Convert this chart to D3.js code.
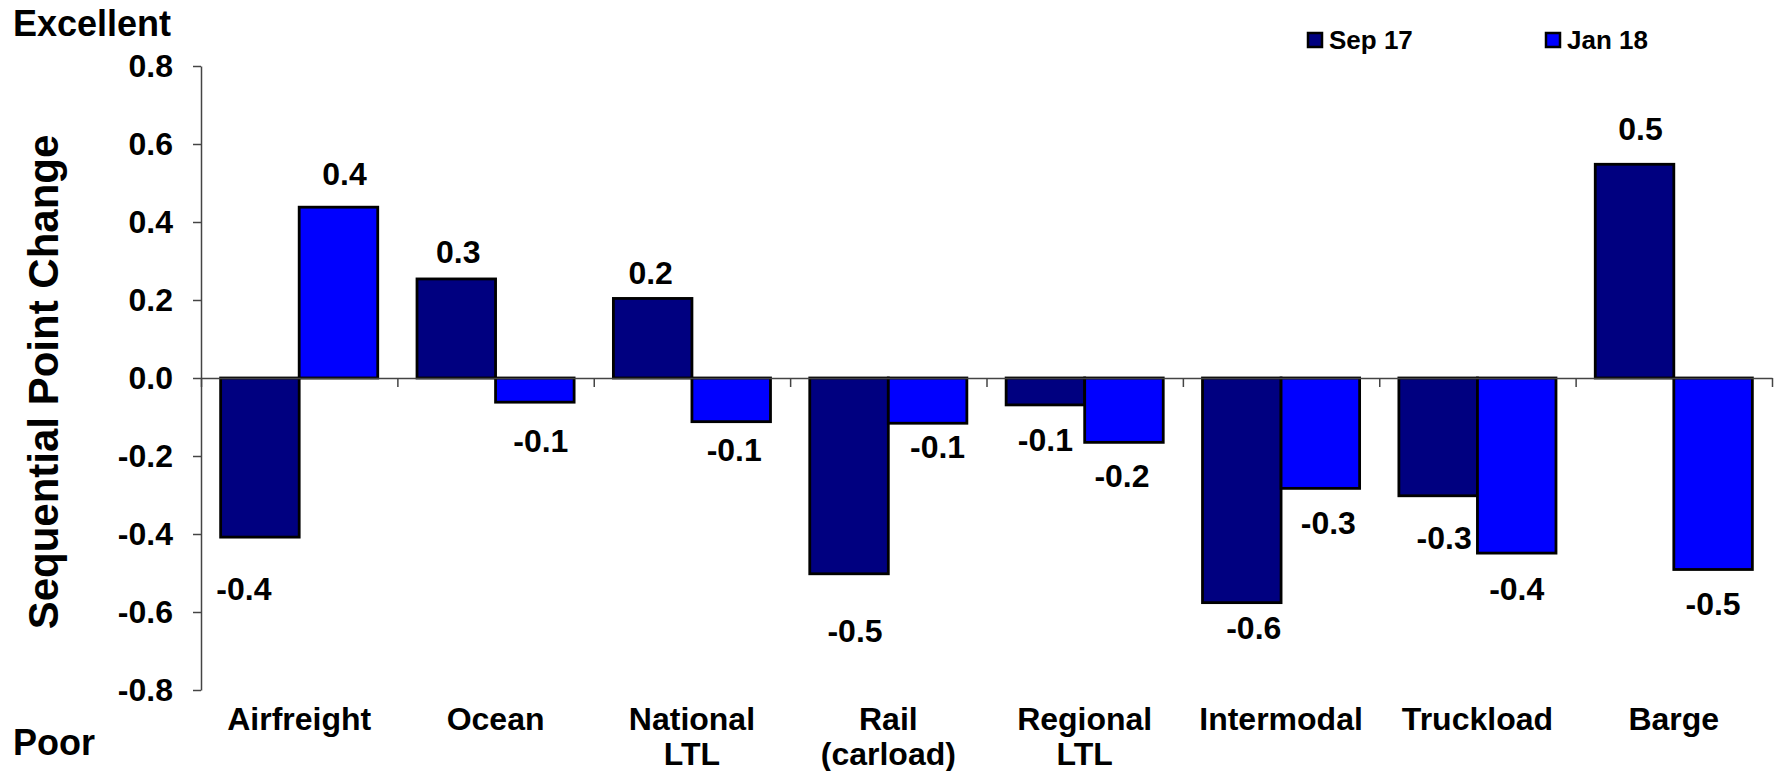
<!DOCTYPE html>
<html>
<head>
<meta charset="utf-8">
<script src="https://cdn.jsdelivr.net/npm/d3@7"></script>
<style>
  html, body { margin: 0; padding: 0; background: #fff; }
  svg { display: block; font-family: "Liberation Sans", Arial, sans-serif; font-weight: bold; }
</style>
</head>
<body>
<svg id="chart" width="1778" height="771"></svg>
<script>
// Shipper satisfaction: sequential point change by transport mode
const categories = ["Airfreight", "Ocean", "National LTL", "Rail (carload)", "Regional LTL", "Intermodal", "Truckload", "Barge"];
const categoryLines = [["Airfreight"], ["Ocean"], ["National", "LTL"], ["Rail", "(carload)"], ["Regional", "LTL"], ["Intermodal"], ["Truckload"], ["Barge"]];
const seriesNames = ["Sep 17", "Jan 18"];
const sep17 = [-0.408, 0.254, 0.204, -0.502, -0.069, -0.576, -0.302, 0.548];
const jan18 = [0.438, -0.062, -0.112, -0.116, -0.165, -0.283, -0.449, -0.491];
const yTicks = [-0.8, -0.6, -0.4, -0.2, 0.0, 0.2, 0.4, 0.6, 0.8];

// Hand-placed value labels: [dx, dy] from the bar end to the label centre
const sepLabelShift = [[-16, 51], [2, -27], [-2, -26], [6, 57], [0, 35], [12, 25], [6, 42], [6, -36]];
const janLabelShift = [[6, -34], [6, 38], [3, 28], [10, 23], [-2, 33], [8, 34], [0, 35], [0, 34]];

const colors = ["#000080", "#0000FF"];
const seriesValues = [sep17, jan18];
const labelShift = [sepLabelShift, janLabelShift];

const svg = d3.select("#chart");
const plotLeft = 201, plotRight = 1772, plotTop = 66, plotBottom = 690;

const y = d3.scaleLinear().domain([-0.8, 0.8]).range([plotBottom, plotTop]);
const x0 = d3.scaleBand().domain(categories).range([plotLeft, plotRight]).paddingInner(0.2).paddingOuter(0.1);
const x1 = d3.scaleBand().domain(seriesNames).range([0, x0.bandwidth()]).padding(0);
const xEdges = d3.scaleLinear().domain([0, categories.length]).range([plotLeft, plotRight]);

const fmt = v => (Math.abs(v) < 1e-9 ? 0 : v).toFixed(1);

// y axis
const yAxis = svg.append("g")
  .attr("transform", `translate(${plotLeft},0)`)
  .call(d3.axisLeft(y).tickValues(yTicks).tickFormat(fmt).tickSize(8).tickSizeOuter(0).tickPadding(20));
yAxis.select(".domain").attr("stroke", "#444").attr("stroke-width", 1.5);
yAxis.selectAll(".tick line").attr("stroke", "#444").attr("stroke-width", 1.5);
yAxis.selectAll(".tick text")
  .attr("fill", "#000")
  .style("font-size", "32px")
  .style("font-weight", "bold")
  .style("font-family", "'Liberation Sans', Arial, sans-serif");

// bars
const groups = svg.append("g").selectAll("g")
  .data(categories)
  .join("g")
  .attr("transform", d => `translate(${x0(d)},0)`);

groups.selectAll("rect")
  .data((d, i) => seriesNames.map((s, k) => ({ s, k, v: seriesValues[k][i] })))
  .join("rect")
  .attr("x", d => x1(d.s))
  .attr("width", x1.bandwidth())
  .attr("y", d => y(Math.max(0, d.v)))
  .attr("height", d => Math.abs(y(d.v) - y(0)))
  .attr("fill", d => colors[d.k])
  .attr("stroke", "#000")
  .attr("stroke-width", 2.8);

// x axis at zero with ticks at category boundaries
const xAxis = svg.append("g")
  .attr("transform", `translate(0,${y(0)})`)
  .call(d3.axisBottom(xEdges).tickValues(d3.range(categories.length + 1)).tickFormat("").tickSize(9).tickSizeOuter(0));
xAxis.select(".domain").attr("stroke", "#444").attr("stroke-width", 1.5);
xAxis.selectAll(".tick line").attr("stroke", "#444").attr("stroke-width", 1.5);

// value labels
const labels = svg.append("g").attr("font-size", 32).attr("text-anchor", "middle").attr("fill", "#000");
categories.forEach((c, i) => {
  seriesNames.forEach((s, k) => {
    const v = seriesValues[k][i];
    const [dx, dy] = labelShift[k][i];
    labels.append("text")
      .attr("x", x0(c) + x1(s) + x1.bandwidth() / 2 + dx)
      .attr("y", y(v) + dy)
      .attr("dy", "0.36em")
      .text(fmt(v));
  });
});

// category labels
const catG = svg.append("g").attr("font-size", 32).attr("text-anchor", "middle").attr("fill", "#000");
categories.forEach((c, i) => {
  const t = catG.append("text")
    .attr("x", x0(c) + x0.bandwidth() / 2)
    .attr("y", 730);
  categoryLines[i].forEach((line, j) => {
    t.append("tspan")
      .attr("x", x0(c) + x0.bandwidth() / 2)
      .attr("dy", j === 0 ? 0 : 35)
      .text(line);
  });
});

// axis title and scale anchors
svg.append("text")
  .attr("transform", "translate(58,382) rotate(-90)")
  .attr("text-anchor", "middle")
  .attr("font-size", 42)
  .text("Sequential Point Change");

svg.append("text").attr("x", 13).attr("y", 36).attr("font-size", 36).text("Excellent");
svg.append("text").attr("x", 13).attr("y", 755).attr("font-size", 36).text("Poor");

// legend
const legendX = [1308, 1546];
const legend = svg.append("g");
seriesNames.forEach((s, k) => {
  legend.append("rect")
    .attr("x", legendX[k]).attr("y", 33)
    .attr("width", 14).attr("height", 14)
    .attr("fill", colors[k])
    .attr("stroke", "#000").attr("stroke-width", 2.5);
  legend.append("text")
    .attr("x", legendX[k] + 21).attr("y", 49)
    .attr("font-size", 26)
    .text(s);
});
</script>
</body>
</html>
